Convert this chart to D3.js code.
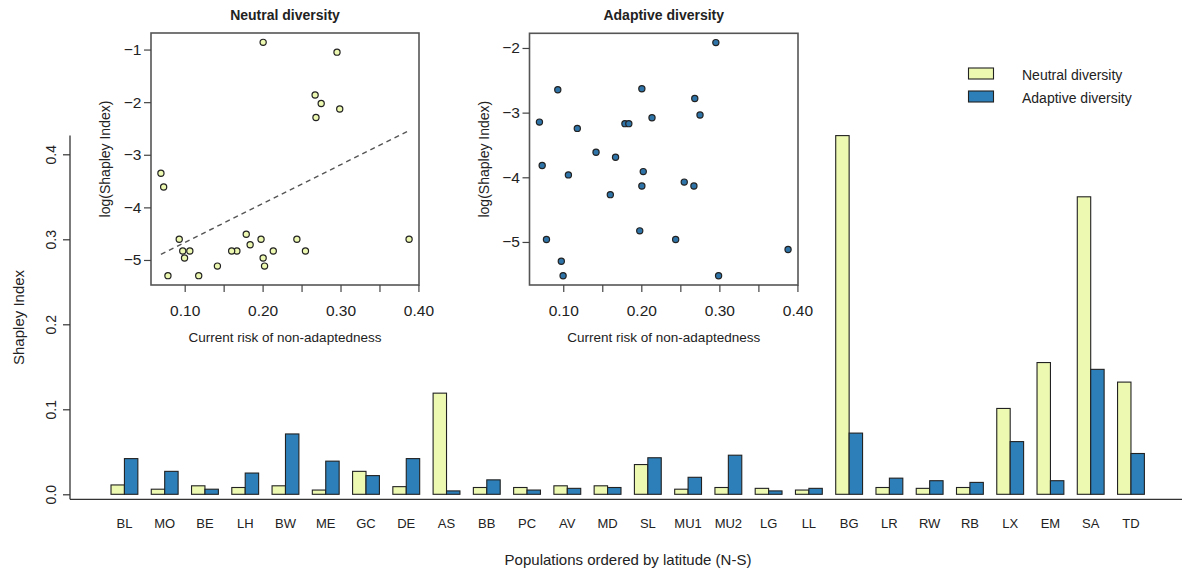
<!DOCTYPE html>
<html>
<head>
<meta charset="utf-8">
<script src="https://cdn.jsdelivr.net/npm/d3@7"></script>
<style>
  body { margin: 0; background: #ffffff; }
  svg { display: block; }
  text { font-family: "Liberation Sans", Arial, Helvetica, sans-serif; fill: #222; }
</style>
</head>
<body>
<svg id="chart" width="1182" height="574"></svg>
<script>
// Populations, ordered by latitude (north to south)
const populations = ["BL","MO","BE","LH","BW","ME","GC","DE","AS","BB","PC","AV","MD",
                     "SL","MU1","MU2","LG","LL","BG","LR","RW","RB","LX","EM","SA","TD"];

// Shapley index of each population for neutral and adaptive genetic diversity
const neutralShapley  = [0.011,0.006,0.010,0.008,0.010,0.005,0.027,0.009,0.119,0.008,0.008,0.010,0.010,
                         0.035,0.006,0.008,0.007,0.005,0.422,0.008,0.007,0.008,0.101,0.155,0.350,0.132];
const adaptiveShapley = [0.042,0.027,0.006,0.025,0.071,0.039,0.022,0.042,0.004,0.017,0.005,0.007,0.008,
                         0.043,0.020,0.046,0.004,0.007,0.072,0.019,0.016,0.014,0.062,0.016,0.147,0.048];

// Current risk of non-adaptedness of each population
const riskNonAdapt    = [0.179,0.142,0.388,0.167,0.093,0.118,0.073,0.184,0.299,0.255,0.0975,0.244,0.198,
                         0.0695,0.2025,0.2137,0.0998,0.0785,0.2007,0.1066,0.2007,0.1603,0.2685,0.2674,0.2955,0.2752];

const seriesNames  = ["Neutral diversity", "Adaptive diversity"];
const seriesFill   = ["#edf8b1", "#2c7fb8"];

const shapleyTicks     = [0, 0.1, 0.2, 0.3, 0.4];
const riskTicks        = [0.10, 0.15, 0.20, 0.25, 0.30, 0.35, 0.40];
const riskTickLabels   = ["0.10", "0.20", "0.30", "0.40"];
const neutralLogTicks  = [-5, -4, -3, -2, -1];
const adaptiveLogTicks = [-5, -4, -3, -2];

const svg = d3.select("#chart");
const INK = "#222";

// ---------------- main bar chart ----------------
const plotLeft = 70, plotRight = 1186, plotBottom = 499.3;

const y = d3.scaleLinear().domain([0, 0.4]).range([494.3, 154.3]);
const x = d3.scaleBand().domain(populations)
  .range([104.3, 1151.1]).paddingInner(1/3).paddingOuter(1/6);
const xSeries = d3.scaleBand().domain([0, 1]).range([0, x.bandwidth()]);

const rows = populations.map((p, i) => ({ pop: p, values: [neutralShapley[i], adaptiveShapley[i]] }));

const groups = svg.append("g").selectAll("g").data(rows).join("g")
  .attr("transform", d => `translate(${x(d.pop)},0)`);
groups.selectAll("rect").data(d => d.values.map((v, s) => ({ v, s }))).join("rect")
  .attr("x", d => xSeries(d.s))
  .attr("width", xSeries.bandwidth())
  .attr("y", d => y(d.v))
  .attr("height", d => y(0) - y(d.v))
  .attr("fill", d => seriesFill[d.s])
  .attr("stroke", INK).attr("stroke-width", 1.1);

// L-shaped frame: left axis line and baseline
const yTop = y(d3.max(neutralShapley.concat(adaptiveShapley)));
svg.append("line").attr("x1", plotLeft).attr("x2", plotLeft)
  .attr("y1", yTop).attr("y2", plotBottom).attr("stroke", "#333").attr("stroke-width", 1.3);
svg.append("line").attr("x1", plotLeft).attr("x2", plotRight)
  .attr("y1", plotBottom).attr("y2", plotBottom).attr("stroke", "#333").attr("stroke-width", 1.3);

// y axis with vertical tick labels
const yAxisG = svg.append("g").attr("transform", `translate(${plotLeft},0)`)
  .call(d3.axisLeft(y).tickValues(shapleyTicks).tickSize(7).tickFormat(d3.format(".1f")));
yAxisG.select(".domain").remove();
yAxisG.selectAll(".tick line").attr("stroke", "#333").attr("stroke-width", 1.2);
yAxisG.selectAll(".tick text")
  .attr("x", null).attr("dy", null)
  .attr("transform", "translate(-14,0) rotate(-90)")
  .attr("text-anchor", "middle")
  .style("font-size", "14px").attr("fill", "#333");

// category labels
const xAxisG = svg.append("g").attr("transform", `translate(0,${plotBottom})`)
  .call(d3.axisBottom(x).tickSize(0).tickPadding(19.5));
xAxisG.select(".domain").remove();
xAxisG.selectAll(".tick text").style("font-size", "13px").attr("fill", "#333");

svg.append("text").attr("x", (plotLeft + plotRight) / 2).attr("y", 565)
  .attr("text-anchor", "middle").style("font-size", "15px").attr("fill", "#333")
  .text("Populations ordered by latitude (N-S)");
svg.append("text").attr("transform", `translate(24,${(yTop + plotBottom) / 2}) rotate(-90)`)
  .attr("text-anchor", "middle").style("font-size", "15px").attr("fill", "#333")
  .text("Shapley Index");

// legend
const legend = svg.append("g").selectAll("g").data(seriesNames).join("g")
  .attr("transform", (d, i) => `translate(968.5,${68 + i * 23})`);
legend.append("rect").attr("width", 25).attr("height", 11)
  .attr("fill", (d, i) => seriesFill[i]).attr("stroke", INK).attr("stroke-width", 1.1);
legend.append("text").attr("x", 53.5).attr("y", 11.5)
  .style("font-size", "14px").attr("fill", "#333").text(d => d);

// ---------------- scatter insets ----------------
// axis limits padded by 4% of the data range on each side
function paddedExtent(values) {
  const [lo, hi] = d3.extent(values);
  const pad = (hi - lo) * 0.04;
  return [lo - pad, hi + pad];
}

function drawInset(cfg) {
  const { left, right, top, bottom, title, yValues, yTickValues, fill, fit } = cfg;
  const g = svg.append("g");
  const xs = d3.scaleLinear().domain(paddedExtent(riskNonAdapt)).range([left, right]);
  const ys = d3.scaleLinear().domain(paddedExtent(yValues)).range([bottom, top]);

  g.append("rect").attr("x", left).attr("y", top)
    .attr("width", right - left).attr("height", bottom - top)
    .attr("fill", "none").attr("stroke", "#555").attr("stroke-width", 1.6);

  const xa = g.append("g").attr("transform", `translate(0,${bottom})`)
    .call(d3.axisBottom(xs).tickValues(riskTicks).tickSize(7).tickPadding(12.6)
      .tickFormat(d => { const s = d3.format(".2f")(d); return riskTickLabels.includes(s) ? s : ""; }));
  xa.select(".domain").remove();
  xa.selectAll(".tick line").attr("stroke", "#444").attr("stroke-width", 1.2);
  xa.selectAll(".tick text").style("font-size", "15.5px").attr("fill", "#333");

  const ya = g.append("g").attr("transform", `translate(${left},0)`)
    .call(d3.axisLeft(ys).tickValues(yTickValues).tickSize(7).tickPadding(2.5).tickFormat(d3.format("d")));
  ya.select(".domain").remove();
  ya.selectAll(".tick line").attr("stroke", "#444").attr("stroke-width", 1.2);
  ya.selectAll(".tick text").style("font-size", "15.5px").attr("fill", "#333");

  g.append("text").attr("x", (left + right) / 2).attr("y", 20)
    .attr("text-anchor", "middle").style("font-size", "14px").style("font-weight", "bold")
    .attr("fill", "#111").text(title);
  g.append("text").attr("x", (left + right) / 2).attr("y", 342)
    .attr("text-anchor", "middle").style("font-size", "13.5px").attr("fill", "#333")
    .text("Current risk of non-adaptedness");
  g.append("text").attr("transform", `translate(${left - 41},${(top + bottom) / 2}) rotate(-90)`)
    .attr("text-anchor", "middle").style("font-size", "14px").attr("fill", "#333")
    .text("log(Shapley Index)");

  if (fit) {
    // ordinary least-squares line of log(Shapley) on risk
    const mx = d3.mean(riskNonAdapt), my = d3.mean(yValues);
    const sxy = d3.sum(riskNonAdapt, (v, i) => (v - mx) * (yValues[i] - my));
    const sxx = d3.sum(riskNonAdapt, v => (v - mx) * (v - mx));
    const slope = sxy / sxx, intercept = my - slope * mx;
    const ext = d3.extent(riskNonAdapt);
    g.append("line")
      .attr("x1", xs(ext[0])).attr("y1", ys(intercept + slope * ext[0]))
      .attr("x2", xs(ext[1])).attr("y2", ys(intercept + slope * ext[1]))
      .attr("stroke", "#555").attr("stroke-width", 1.4).attr("stroke-dasharray", "5,4");
  }

  g.append("g").selectAll("circle").data(yValues).join("circle")
    .attr("cx", (d, i) => xs(riskNonAdapt[i]))
    .attr("cy", d => ys(d))
    .attr("r", 3.1)
    .attr("fill", fill).attr("stroke", "#222").attr("stroke-width", 1.2);
}

drawInset({
  left: 151, right: 419, top: 33, bottom: 285,
  title: "Neutral diversity",
  yValues: neutralShapley.map(Math.log),
  yTickValues: neutralLogTicks,
  fill: seriesFill[0],
  fit: true
});
drawInset({
  left: 529.5, right: 798, top: 33.3, bottom: 285,
  title: "Adaptive diversity",
  yValues: adaptiveShapley.map(Math.log),
  yTickValues: adaptiveLogTicks,
  fill: "#2f74a8",
  fit: false
});
</script>
</body>
</html>
